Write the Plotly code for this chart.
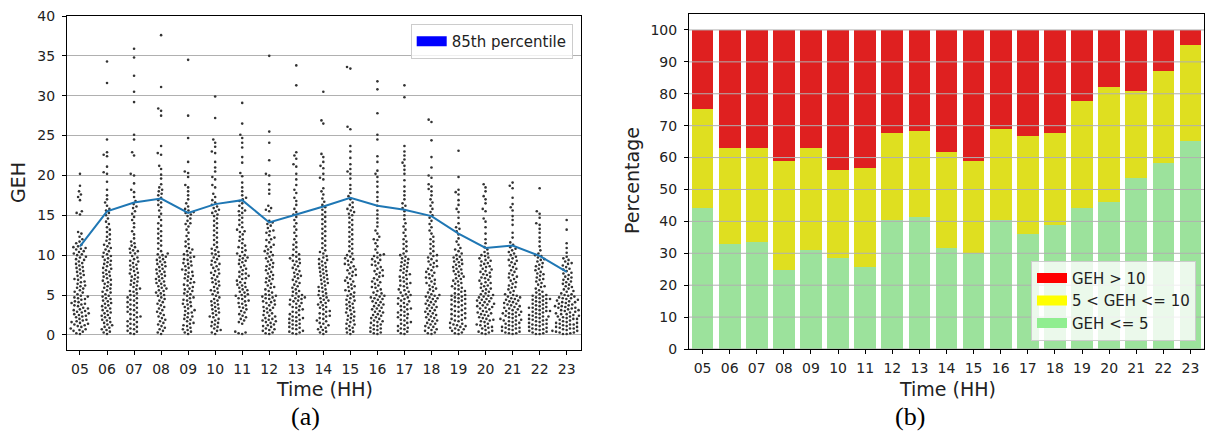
import math
import plotly.graph_objects as go

# ---------------- data ----------------
hours = ["05", "06", "07", "08", "09", "10", "11", "12", "13", "14",
         "15", "16", "17", "18", "19", "20", "21", "22", "23"]

geh_05 = [0.1,0.2,0.4,0.5,0.6,0.7,0.8,1.0,1.1,1.2,1.3,1.4,1.5,1.6,1.7,1.8,1.9,2.0,2.2,2.3,2.4,2.5,2.6,2.7,2.8,2.9,3.0,3.1,3.2,3.3,3.4,3.6,3.7,3.8,3.9,4.0,4.1,4.2,4.4,4.5,4.6,4.7,4.8,4.9,
          5.1,5.3,5.4,5.6,5.8,5.9,6.1,6.2,6.4,6.6,6.7,6.9,7.0,7.2,7.4,7.5,7.7,7.9,8.0,8.2,8.4,8.5,8.7,8.9,9.0,9.2,9.4,9.5,9.7,9.8,10.0,
          10.1,10.2,10.4,10.5,10.7,10.8,10.9,11.0,11.1,11.3,11.5,11.7,12.0,12.3,12.7,12.9,15.1,15.3,15.5,16.9,17.3,17.6,18.0,18.7,20.2]
geh_06 = [0.1,0.3,0.4,0.6,0.7,0.9,1.0,1.2,1.3,1.5,1.6,1.8,1.9,2.1,2.2,2.4,2.5,2.7,2.8,3.0,3.1,3.3,3.4,3.6,3.7,3.9,4.0,4.2,4.3,4.5,4.6,4.8,4.9,
          5.1,5.3,5.4,5.6,5.8,5.9,6.1,6.3,6.4,6.6,6.8,6.9,7.1,7.3,7.4,7.6,7.8,7.9,8.1,8.3,8.4,8.6,8.8,8.9,9.1,9.3,9.4,9.6,9.8,9.9,
          10.1,10.3,10.5,10.7,10.9,11.1,11.3,11.5,11.8,12.0,12.3,12.6,12.9,13.2,13.5,13.9,14.2,14.6,15.0,15.3,15.6,15.8,16.2,16.6,17.0,17.5,18.2,19.2,20.2,20.4,21.1,22.4,22.6,22.9,24.5,31.6,34.3]
geh_07 = [0.1,0.2,0.4,0.5,0.7,0.8,1.0,1.1,1.3,1.4,1.6,1.7,1.9,2.0,2.2,2.3,2.5,2.6,2.8,2.9,3.1,3.2,3.4,3.5,3.7,3.8,4.0,4.1,4.3,4.4,4.6,4.7,4.9,
          5.0,5.2,5.4,5.5,5.7,5.8,6.0,6.2,6.3,6.5,6.7,6.8,7.0,7.2,7.3,7.5,7.7,7.8,8.0,8.2,8.3,8.5,8.7,8.8,9.0,9.2,9.3,9.5,9.7,9.9,
          10.2,10.3,10.5,10.6,10.8,11.0,11.2,11.5,11.7,12.1,12.6,13.0,13.5,14.0,14.4,14.8,15.2,15.5,15.9,16.1,16.4,16.8,17.3,17.9,18.2,19.0,20.0,20.2,22.5,22.9,24.5,25.1,29.2,30.5,32.5,34.8,35.9]
geh_08 = [0.1,0.3,0.5,0.7,0.9,1.1,1.3,1.5,1.7,1.9,2.1,2.3,2.5,2.7,2.9,3.1,3.3,3.5,3.7,3.9,4.1,4.3,4.5,4.7,4.9,
          5.0,5.2,5.3,5.5,5.6,5.8,5.9,6.1,6.2,6.4,6.5,6.7,6.8,7.0,7.1,7.3,7.4,7.6,7.7,7.9,8.0,8.2,8.3,8.5,8.6,8.8,8.9,9.1,9.2,9.4,9.5,9.7,9.8,10.0,
          10.1,10.2,10.5,10.8,11.2,11.5,11.8,12.1,12.4,12.7,13.0,13.3,13.7,14.0,14.4,14.8,15.2,15.6,16.0,16.3,16.6,16.9,17.2,17.5,17.7,18.0,18.2,18.5,18.9,19.6,20.1,20.8,21.2,22.6,22.8,23.7,27.5,28.1,28.4,31.1,37.6]
geh_09 = [0.1,0.3,0.4,0.6,0.7,0.9,1.1,1.2,1.4,1.5,1.7,1.9,2.0,2.2,2.3,2.5,2.7,2.8,3.0,3.1,3.3,3.5,3.6,3.8,3.9,4.1,4.3,4.4,4.6,4.7,4.9,
          5.1,5.2,5.4,5.5,5.7,5.8,6.0,6.2,6.3,6.5,6.6,6.8,7.0,7.1,7.3,7.4,7.6,7.8,7.9,8.1,8.2,8.4,8.6,8.7,8.9,9.0,9.2,9.4,9.5,9.7,9.8,10.0,
          10.1,10.3,10.5,10.7,10.9,11.1,11.4,11.7,12.0,12.4,12.8,13.2,13.6,13.9,14.0,14.3,14.6,14.9,15.1,15.3,15.4,15.6,15.8,16.1,16.5,17.0,17.5,18.0,18.5,18.8,19.8,20.3,20.5,21.7,24.7,27.5,34.5]
geh_10 = [0.1,0.3,0.5,0.6,0.8,1.0,1.1,1.3,1.5,1.6,1.8,2.0,2.2,2.3,2.5,2.7,2.8,3.0,3.2,3.3,3.5,3.7,3.8,4.0,4.2,4.3,4.5,4.7,4.9,
          5.1,5.3,5.5,5.6,5.8,6.0,6.2,6.4,6.6,6.7,6.9,7.1,7.3,7.5,7.7,7.8,8.0,8.2,8.4,8.6,8.8,8.9,9.1,9.3,9.5,9.7,9.9,
          10.1,10.2,10.4,10.6,10.8,11.0,11.3,11.6,11.9,12.2,12.5,12.8,13.1,13.4,13.7,14.0,14.3,14.6,14.9,15.1,15.3,15.5,15.7,15.9,16.1,16.3,16.6,16.9,17.3,17.7,18.5,18.8,19.5,19.8,20.5,21.0,21.7,22.8,23.0,23.6,24.1,24.5,27.2,29.9]
geh_11 = [0.1,0.2,0.3,0.4,1.4,1.6,1.8,2.0,2.2,2.4,2.6,2.8,3.0,3.2,3.4,3.5,3.7,3.9,4.0,4.2,4.3,4.5,4.6,4.8,4.9,5.0,
          5.1,5.3,5.4,5.6,5.7,5.9,6.0,6.2,6.3,6.5,6.6,6.8,7.0,7.1,7.3,7.4,7.6,7.7,7.9,8.1,8.3,8.5,8.7,8.9,9.1,9.3,9.4,9.6,9.7,9.9,10.0,
          10.2,10.4,10.6,10.9,11.0,11.2,11.5,11.8,12.0,12.3,12.6,12.9,13.0,13.2,13.5,13.8,14.1,14.4,14.7,15.0,15.3,15.5,15.6,15.9,16.2,16.5,16.8,17.0,17.2,17.5,18.0,18.5,19.1,19.9,20.3,21.6,22.3,23.5,24.1,24.7,25.1,26.5,29.1]
geh_12 = [0.1,0.2,0.3,0.5,0.6,0.7,0.8,1.0,1.1,1.2,1.3,1.5,1.6,1.7,1.8,1.9,2.0,2.1,2.3,2.4,2.5,2.7,2.8,3.0,3.1,3.3,3.4,3.5,3.7,3.8,4.0,4.1,4.2,4.3,4.5,4.6,4.7,4.8,4.9,5.0,
          5.1,5.3,5.5,5.7,5.9,6.0,6.2,6.4,6.6,6.8,7.0,7.1,7.3,7.5,7.7,7.9,8.1,8.3,8.5,8.6,8.8,9.0,9.2,9.4,9.6,9.8,10.0,
          10.2,10.4,10.5,10.7,11.0,11.1,11.3,11.6,11.9,12.0,12.2,12.5,12.8,13.0,13.1,13.4,13.7,13.9,14.1,14.3,15.5,15.7,15.9,16.2,17.7,18.2,18.9,20.0,20.2,21.9,24.1,25.5,35.0]
geh_13 = [0.1,0.2,0.3,0.4,0.5,0.7,0.8,0.9,1.0,1.2,1.3,1.4,1.5,1.7,1.8,1.9,2.0,2.1,2.2,2.3,2.5,2.6,2.8,2.9,3.1,3.2,3.4,3.5,3.6,3.8,3.9,4.0,4.2,4.3,4.4,4.5,4.6,4.7,4.8,4.9,5.0,
          5.2,5.4,5.5,5.7,5.9,6.1,6.3,6.5,6.7,6.9,7.1,7.3,7.4,7.6,7.8,8.0,8.2,8.4,8.6,8.8,9.0,9.2,9.3,9.5,9.6,9.8,10.0,
          10.1,10.4,10.7,11.0,11.3,11.6,12.0,12.4,12.8,13.2,13.6,14.0,14.4,14.8,15.1,15.4,15.8,16.3,16.8,17.2,17.8,18.2,18.8,19.5,20.2,21.1,21.4,22.1,22.5,22.9,31.3,33.8]
geh_14 = [0.1,0.3,0.4,0.6,0.7,0.9,1.0,1.2,1.4,1.5,1.7,1.8,2.0,2.1,2.3,2.4,2.6,2.7,2.9,3.0,3.2,3.4,3.5,3.7,3.8,4.0,4.1,4.3,4.4,4.6,4.7,4.9,
          5.0,5.2,5.4,5.5,5.7,5.9,6.0,6.2,6.4,6.5,6.7,6.9,7.0,7.2,7.4,7.5,7.7,7.9,8.0,8.2,8.4,8.5,8.7,8.9,9.0,9.2,9.4,9.5,9.7,9.9,
          10.2,10.4,10.6,10.9,11.2,11.5,11.8,12.1,12.4,12.7,13.0,13.3,13.6,13.9,14.2,14.5,14.8,15.1,15.4,15.7,16.0,16.3,16.7,17.1,17.6,18.0,18.4,19.5,19.7,20.2,20.9,21.2,21.7,22.3,22.7,26.5,26.9,30.5]
geh_15 = [0.1,0.3,0.4,0.6,0.8,0.9,1.1,1.3,1.4,1.6,1.8,1.9,2.1,2.3,2.4,2.6,2.8,2.9,3.1,3.3,3.4,3.6,3.8,3.9,4.1,4.3,4.4,4.6,4.8,4.9,
          5.1,5.3,5.5,5.6,5.8,6.0,6.1,6.3,6.5,6.7,6.8,7.0,7.2,7.4,7.5,7.7,7.9,8.1,8.2,8.4,8.6,8.8,8.9,9.1,9.3,9.5,9.6,9.8,10.0,
          10.2,10.5,10.8,11.1,11.4,11.7,12.0,12.3,12.6,12.9,13.2,13.5,13.8,14.1,14.4,14.7,15.0,15.2,15.4,15.6,15.8,16.0,16.3,16.6,17.0,17.4,17.8,18.3,18.8,19.6,20.2,20.5,20.8,21.4,22.2,23.0,23.7,25.8,26.1,33.4,33.6]
geh_16 = [0.1,0.2,0.3,0.4,0.6,0.7,0.8,0.9,1.1,1.2,1.3,1.5,1.6,1.7,1.8,2.0,2.1,2.2,2.4,2.5,2.6,2.8,2.9,3.0,3.2,3.3,3.4,3.6,3.7,3.8,4.0,4.1,4.2,4.4,4.5,4.6,4.7,4.8,4.9,5.0,
          5.2,5.3,5.5,5.7,5.9,6.0,6.2,6.4,6.6,6.7,6.9,7.1,7.3,7.4,7.6,7.8,8.0,8.1,8.3,8.5,8.7,8.8,9.0,9.2,9.4,9.5,9.7,9.9,10.0,
          10.1,10.3,10.7,11.1,11.5,11.9,12.0,12.3,12.7,13.1,13.6,14.1,14.6,15.1,15.6,16.2,16.8,17.3,17.9,18.6,19.2,19.8,20.2,20.6,21.7,22.4,24.5,25.1,27.8,30.8,31.8]
geh_17 = [0.1,0.2,0.4,0.5,0.7,0.8,0.9,1.1,1.2,1.4,1.5,1.6,1.8,1.9,2.1,2.2,2.4,2.5,2.6,2.8,2.9,3.1,3.2,3.3,3.5,3.6,3.8,3.9,4.0,4.2,4.3,4.5,4.6,4.7,4.9,5.0,
          5.1,5.3,5.4,5.6,5.7,5.9,6.1,6.2,6.4,6.5,6.7,6.8,7.0,7.2,7.3,7.5,7.6,7.8,8.0,8.1,8.3,8.5,8.6,8.8,9.0,9.1,9.3,9.5,9.6,9.8,10.0,
          10.2,10.5,10.8,11.1,11.4,11.7,12.0,12.4,12.8,13.2,13.6,14.0,14.5,15.0,15.5,15.9,16.2,16.5,17.0,17.5,18.0,18.6,19.4,20.2,20.7,21.2,21.6,22.0,22.5,23.0,23.7,29.8,31.3]
geh_18 = [0.1,0.2,0.3,0.5,0.6,0.7,0.9,1.0,1.1,1.3,1.4,1.5,1.7,1.8,1.9,2.1,2.2,2.3,2.5,2.6,2.7,2.9,3.0,3.1,3.3,3.4,3.5,3.7,3.8,3.9,4.1,4.2,4.3,4.5,4.6,4.7,4.8,4.9,5.0,
          5.1,5.3,5.5,5.7,5.8,6.0,6.2,6.4,6.5,6.7,6.9,7.1,7.2,7.4,7.6,7.8,7.9,8.1,8.3,8.5,8.6,8.8,9.0,9.2,9.3,9.5,9.7,9.9,10.0,
          10.2,10.5,10.8,11.1,11.4,11.7,12.0,12.3,12.7,13.1,13.5,13.9,14.3,14.7,15.0,15.4,15.8,16.2,16.6,17.0,17.5,18.0,18.3,18.6,18.9,19.7,20.0,21.0,22.3,24.4,26.7,27.0]
geh_19 = [0.1,0.2,0.3,0.5,0.6,0.7,0.8,0.9,1.0,1.1,1.2,1.3,1.4,1.5,1.7,1.8,1.9,2.0,2.1,2.3,2.4,2.5,2.6,2.7,2.9,3.0,3.1,3.2,3.3,3.5,3.6,3.7,3.8,3.9,4.1,4.2,4.3,4.4,4.5,4.6,4.7,4.8,4.9,5.0,
          5.1,5.2,5.4,5.5,5.7,5.8,5.9,6.1,6.2,6.4,6.5,6.7,6.8,7.0,7.1,7.3,7.4,7.6,7.7,7.9,8.0,8.2,8.3,8.5,8.6,8.8,8.9,9.1,9.2,9.4,9.5,9.7,9.8,10.0,
          10.2,10.5,10.7,10.9,11.3,11.7,12.1,12.6,13.0,13.3,13.5,14.0,14.7,15.4,15.8,16.3,16.9,17.6,17.9,18.2,19.8,23.1]
geh_20 = [0.1,0.2,0.3,0.4,0.5,0.6,0.8,0.9,1.0,1.1,1.2,1.3,1.4,1.6,1.7,1.8,1.9,2.0,2.1,2.2,2.4,2.5,2.6,2.7,2.8,2.9,3.0,3.2,3.3,3.4,3.5,3.6,3.7,3.8,3.9,4.0,4.1,4.2,4.3,4.4,4.5,4.6,4.7,4.8,4.9,5.0,
          5.1,5.2,5.4,5.5,5.7,5.8,5.9,6.1,6.2,6.4,6.5,6.6,6.8,6.9,7.1,7.2,7.3,7.5,7.6,7.8,7.9,8.0,8.2,8.3,8.5,8.6,8.7,8.9,9.0,9.2,9.3,9.4,9.6,9.7,9.9,10.0,
          10.2,10.4,10.7,11.0,11.5,12.0,12.7,13.5,14.2,14.6,15.5,15.8,16.5,17.0,17.4,18.0,18.5,18.9]
geh_21 = [0.1,0.2,0.2,0.3,0.4,0.5,0.6,0.7,0.8,0.9,0.9,1.0,1.1,1.2,1.3,1.4,1.5,1.6,1.7,1.8,1.8,1.9,2.0,2.1,2.2,2.3,2.4,2.5,2.6,2.7,2.7,2.8,2.9,3.0,3.1,3.2,3.3,3.4,3.5,3.6,3.7,3.8,3.9,4.0,4.1,4.2,4.3,4.4,4.5,4.6,4.7,4.8,4.9,5.0,
          5.1,5.3,5.5,5.7,5.9,6.0,6.2,6.4,6.6,6.8,7.0,7.2,7.3,7.5,7.7,7.9,8.1,8.3,8.5,8.7,8.9,9.1,9.3,9.4,9.6,9.8,10.0,
          10.2,10.4,10.6,10.8,11.0,11.3,11.6,12.2,12.8,13.8,14.4,14.9,15.6,16.0,16.4,17.2,18.4,18.7,19.1]
geh_22 = [0.1,0.1,0.2,0.3,0.4,0.5,0.6,0.7,0.7,0.8,0.9,1.0,1.1,1.2,1.3,1.3,1.4,1.5,1.6,1.7,1.8,1.9,1.9,2.0,2.1,2.2,2.3,2.3,2.4,2.5,2.6,2.7,2.8,2.9,3.0,3.0,3.1,3.2,3.3,3.4,3.4,3.5,3.6,3.7,3.8,3.9,4.0,4.1,4.2,4.3,4.4,4.5,4.5,4.6,4.7,4.8,4.9,5.0,
          5.1,5.3,5.4,5.6,5.8,6.0,6.1,6.3,6.5,6.7,6.9,7.0,7.2,7.4,7.6,7.7,7.9,8.1,8.3,8.5,8.6,8.8,9.0,9.2,9.4,9.5,9.7,9.9,10.0,
          10.2,10.6,11.1,11.7,12.2,12.8,13.3,13.8,14.0,14.7,15.2,15.5,18.4]
geh_23 = [0.1,0.1,0.2,0.3,0.3,0.4,0.5,0.5,0.6,0.7,0.8,0.8,0.9,1.0,1.0,1.1,1.2,1.3,1.3,1.4,1.5,1.5,1.6,1.7,1.8,1.9,2.0,2.0,2.1,2.2,2.3,2.3,2.4,2.5,2.6,2.6,2.7,2.8,2.9,3.0,3.1,3.1,3.2,3.3,3.4,3.4,3.5,3.6,3.6,3.7,3.8,3.9,4.0,4.1,4.1,4.2,4.3,4.4,4.5,4.6,4.6,4.7,4.8,4.9,5.0,
          5.1,5.2,5.4,5.5,5.7,5.8,6.0,6.1,6.3,6.4,6.6,6.7,6.9,7.0,7.2,7.3,7.5,7.7,7.8,8.0,8.2,8.3,8.5,8.7,8.9,9.0,9.2,9.4,9.6,9.8,
          10.3,10.9,11.5,13.2,14.4]

geh_by_hour = [geh_05, geh_06, geh_07, geh_08, geh_09, geh_10, geh_11, geh_12, geh_13, geh_14,
               geh_15, geh_16, geh_17, geh_18, geh_19, geh_20, geh_21, geh_22, geh_23]

p85 = [11.1, 15.5, 16.6, 17.1, 15.3, 16.4, 16.9, 14.1, 15.1, 16.1,
       17.2, 16.2, 15.7, 14.9, 12.7, 10.9, 11.2, 9.9, 7.9]

pct_le5 = [44.3, 32.8, 33.5, 24.9, 31.0, 28.6, 25.8, 40.4, 41.3, 31.8,
           30.1, 40.4, 36.0, 38.8, 44.3, 46.1, 53.7, 58.2, 65.1]
pct_5_10 = [30.9, 30.3, 29.6, 33.9, 32.1, 27.5, 31.0, 27.2, 27.0, 30.1,
            28.8, 28.7, 30.9, 28.8, 33.3, 36.0, 27.2, 28.9, 30.3]
pct_gt10 = [24.8, 36.9, 36.9, 41.2, 36.9, 43.9, 43.2, 32.4, 31.7, 38.1,
            41.1, 30.9, 33.1, 32.4, 22.4, 17.9, 19.1, 12.9, 4.6]

y_ticks_a = [0, 5, 10, 15, 20, 25, 30, 35, 40]
y_ticks_b = [0, 10, 20, 30, 40, 50, 60, 70, 80, 90, 100]

# ---------------- layout geometry ----------------
W, H = 1205, 433
ax_a = (67, 581, 16, 350)      # left, right, top, bottom (px)
ax_b = (689, 1204, 14, 349)
xr_a = [-0.48, 18.53]
yr_a = [-1.9, 40]
xr_b = [-0.5, 18.5]
yr_b = [0, 105]

ppx = (ax_a[1] - ax_a[0]) / (xr_a[1] - xr_a[0])
ppy = (ax_a[3] - ax_a[2]) / (yr_a[1] - yr_a[0])
DOT_GAP = 3.7  # px between dot centres


def swarm_offsets(vals):
    """Beeswarm placement (seaborn style) in pixel space, returns category offsets."""
    order = sorted(range(len(vals)), key=lambda i: vals[i])
    placed = []
    offs = [0.0] * len(vals)
    d2 = DOT_GAP * DOT_GAP
    for i in order:
        y = vals[i] * ppy
        nb = [(px, py) for (px, py) in placed if abs(py - y) < DOT_GAP]
        cands = [0.0]
        for px, py in nb:
            dx = math.sqrt(max(d2 - (py - y) ** 2, 0.0))
            cands += [px + dx, px - dx]
        cands.sort(key=lambda c: (abs(c), c))
        chosen = cands[-1]
        for c in cands:
            if all((c - px) ** 2 + (y - py) ** 2 >= d2 - 1e-6 for px, py in nb):
                chosen = c
                break
        placed.append((chosen, y))
        offs[i] = chosen / ppx
    return offs


def dom_x(a):
    return [a[0] / W, a[1] / W]


def dom_y(a):
    return [1 - a[3] / H, 1 - a[2] / H]


fig = go.Figure()

# swarm dots
xs, ys = [], []
for k, vals in enumerate(geh_by_hour):
    offs = swarm_offsets(vals)
    xs += [k + o for o in offs]
    ys += list(vals)
fig.add_trace(go.Scatter(x=xs, y=ys, mode="markers", xaxis="x", yaxis="y",
                         marker=dict(size=2.6, color="#333333"), showlegend=False,
                         hoverinfo="skip"))
# 85th percentile line
fig.add_trace(go.Scatter(x=list(range(len(hours))), y=p85, mode="lines", xaxis="x", yaxis="y",
                         line=dict(color="#1f77b4", width=2), showlegend=False))
fig.add_trace(go.Scatter(x=[None], y=[None], mode="lines", xaxis="x", yaxis="y",
                         line=dict(color="#0000ff", width=12), name="85th percentile",
                         legend="legend"))

# stacked bars
xb = list(range(len(hours)))
for vals, col in [(pct_le5, "#9ce29c"), (pct_5_10, "#dfdf20"), (pct_gt10, "#df2020")]:
    fig.add_trace(go.Bar(x=xb, y=vals, width=0.8, marker=dict(color=col, line=dict(width=0)),
                         xaxis="x2", yaxis="y2", showlegend=False))
for name, col, grp in [("GEH > 10", "#ff0000", "g1"), ("5 < GEH <= 10", "#ffff00", "g2"),
                       ("GEH <= 5", "#90ee90", "g3")]:
    fig.add_trace(go.Scatter(x=[None], y=[None], mode="lines", xaxis="x2", yaxis="y2",
                             line=dict(color=col, width=12), name=name, legend="legend2",
                             legendgroup=grp))

tickfont = dict(family="DejaVu Sans", size=14, color="#222222")
axis_common = dict(showline=True, mirror=True, linecolor="#000000", linewidth=1,
                   ticks="outside", ticklen=4, tickcolor="#000000", tickfont=tickfont,
                   zeroline=False, fixedrange=True, automargin=False)

shapes = []
for t in y_ticks_b:
    shapes.append(dict(type="line", xref="x2 domain", yref="y2", x0=0, x1=1, y0=t, y1=t,
                       line=dict(color="#b0b0b0", width=1), layer="above"))

lab_font = dict(family="DejaVu Sans", size=19, color="#222222")
serif = dict(family="Liberation Serif", size=26, color="#000000")
ann = [
    dict(text="GEH", x=18 / W, y=1 - 183 / H, textangle=-90, font=lab_font),
    dict(text="Time (HH)", x=324 / W, y=1 - 389 / H, font=lab_font),
    dict(text="(a)", x=305 / W, y=1 - 416 / H, font=serif),
    dict(text="Percentage", x=632 / W, y=1 - 181 / H, textangle=-90, font=lab_font),
    dict(text="Time (HH)", x=947 / W, y=1 - 389 / H, font=lab_font),
    dict(text="(b)", x=910 / W, y=1 - 416 / H, font=serif),
]
for a in ann:
    a.update(xref="paper", yref="paper", showarrow=False, xanchor="center", yanchor="middle")

fig.update_layout(
    width=W, height=H, margin=dict(l=0, r=0, t=0, b=0, autoexpand=False),
    paper_bgcolor="white", plot_bgcolor="white", barmode="stack", bargap=0,
    xaxis=dict(domain=dom_x(ax_a), range=xr_a, tickvals=list(range(len(hours))), ticktext=hours,
               showgrid=False, anchor="y", ticklabelstandoff=2, **axis_common),
    yaxis=dict(domain=dom_y(ax_a), range=yr_a, tickvals=y_ticks_a, showgrid=True,
               gridcolor="#b0b0b0", gridwidth=1, anchor="x", ticklabelstandoff=4, **axis_common),
    xaxis2=dict(domain=dom_x(ax_b), range=xr_b, tickvals=xb, ticktext=hours,
                showgrid=False, anchor="y2", ticklabelstandoff=2, **axis_common),
    yaxis2=dict(domain=dom_y(ax_b), range=yr_b, tickvals=y_ticks_b, showgrid=False,
                anchor="x2", ticklabelstandoff=4, **axis_common),
    legend=dict(x=572.7 / W, xanchor="right", y=1 - 24 / H, yanchor="top",
                bgcolor="rgba(255,255,255,0.8)", bordercolor="#cccccc", borderwidth=1,
                font=dict(family="DejaVu Sans", size=15, color="#222222")),
    legend2=dict(x=1196 / W, xanchor="right", y=1 - 340.7 / H, yanchor="bottom",
                 bgcolor="rgba(255,255,255,0.8)", bordercolor="#cccccc", borderwidth=1,
                 tracegroupgap=0,
                 font=dict(family="DejaVu Sans", size=15, color="#222222")),
    shapes=shapes, annotations=ann, showlegend=True,
)

fig.write_html(
    "out.html",
    config={"displayModeBar": False},
    post_script="document.body.style.margin='0px';document.body.style.padding='0px';"
                "document.body.style.overflow='hidden';",
)
